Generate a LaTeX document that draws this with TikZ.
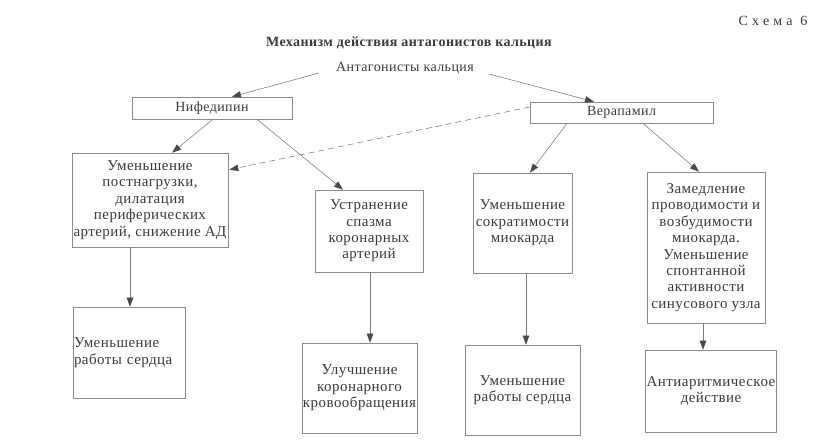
\documentclass[tikz,border=0pt]{standalone}
\usepackage{fontspec}
\setmainfont{Liberation Serif}
\newfontfamily\spacedfont[LetterSpace=30]{Liberation Serif}
\newfontfamily\bxfam[LetterSpace=3]{Liberation Serif}
\usetikzlibrary{arrows.meta,calc}
\definecolor{txt}{HTML}{3A3A3A}
\definecolor{boxgray}{HTML}{8A8A8A}
\definecolor{linegray}{HTML}{7A7A7A}
\definecolor{tipgray}{HTML}{4A4A4A}
\newcommand\bxfont{\bxfam\fontsize{15}{16.4}\selectfont}
\newcommand\drugfont{\bxfam\fontsize{14}{16}\selectfont}
\tikzset{
  box/.style={draw=boxgray, line width=0.6pt, inner sep=1pt, align=center, font=\bxfont, text=txt},
  drug/.style={box, font=\drugfont},
  arr/.style={draw=linegray, line width=0.55pt, -{Triangle[length=9pt,width=6.5pt,color=tipgray]}},
  dasharr/.style={arr, dash pattern=on 6pt off 4pt},
  lbl/.style={inner sep=0pt, text=txt}
}
\begin{document}
\begin{tikzpicture}[x=1pt,y=-1pt]
\useasboundingbox[fill=white] (0,0) rectangle (823,444);
% texts
\node[lbl, font=\spacedfont\fontsize{14}{16}\selectfont] (schema) at (773,21) {Схема 6};
\node[lbl, font=\bxfam\bfseries\fontsize{14}{16}\selectfont] (title) at (409,43) {Механизм действия антагонистов кальция};
\node[lbl, font=\bxfam\fontsize{14}{16}\selectfont] (ant) at (405,68) {Антагонисты кальция};
% drug boxes
\node[drug, minimum width=160pt, minimum height=22pt] (nif) at (212,108) {Нифедипин};
\node[drug, minimum width=183pt, minimum height=21pt] (ver) at (621.5,112.5) {Верапамил};
% effect boxes
\node[box, minimum width=156pt, minimum height=94pt] (A) at (150,200)
  {Уменьшение\\постнагрузки,\\дилатация\\периферических\\артерий, снижение АД};
\node[box, minimum width=108pt, minimum height=82pt] (B) at (369,231)
  {Устранение\\спазма\\коронарных\\артерий};
\node[box, minimum width=99pt, minimum height=100pt] (C) at (522.5,223)
  {Уменьшение\\сократимости\\миокарда};
\node[box, minimum width=118pt, minimum height=151pt] (D) at (706,247.5)
  {Замедление\\проводимости и\\возбудимости\\миокарда.\\Уменьшение\\спонтанной\\активности\\синусового узла};
\node[box, minimum width=112pt, minimum height=91pt, text width=110pt, align=left] (E) at (129,352.5)
  {Уменьшение\\работы сердца};
\node[box, minimum width=115pt, minimum height=90pt] (F) at (359.5,388)
  {Улучшение\\коронарного\\кровообращения};
\node[box, minimum width=115pt, minimum height=90pt] (G) at (522.5,390)
  {Уменьшение\\работы сердца};
\node[box, minimum width=128pt, minimum height=82pt] (H) at (711,391)
  {Антиаритмическое\\действие};
% connectors
\draw[arr] ($(ant.west)+(-17,5)$) -- ($(nif.north)+(20,0)$);
\draw[arr] ($(ant.east)+(15,6)$) -- ($(ver.north)+(-27.5,0)$);
\draw[dasharr] ($(ver.west)+(0,-5.5)$) -- ($(A.north east)+(1,17)$);
\draw[arr] ($(nif.south)+(1,0)$) -- ($(A.north)+(22,0)$);
\draw[arr] ($(nif.south)+(45,0)$) -- ($(B.north)+(-26,0)$);
\draw[arr] ($(ver.south)+(-54.5,0)$) -- ($(C.north)+(7.5,0)$);
\draw[arr] ($(ver.south)+(21.5,0)$) -- ($(D.north)+(-7,0)$);
\draw[arr] ($(A.south)+(-20,0)$) coordinate (a1) -- (a1 |- E.north);
\draw[arr] ($(B.south)+(1,0)$) coordinate (b1) -- (b1 |- F.north);
\draw[arr] ($(C.south)+(3.5,0)$) coordinate (c1) -- (c1 |- G.north);
\draw[arr] ($(D.south)+(-3,0)$) coordinate (d1) -- (d1 |- H.north);
\end{tikzpicture}
\end{document}
